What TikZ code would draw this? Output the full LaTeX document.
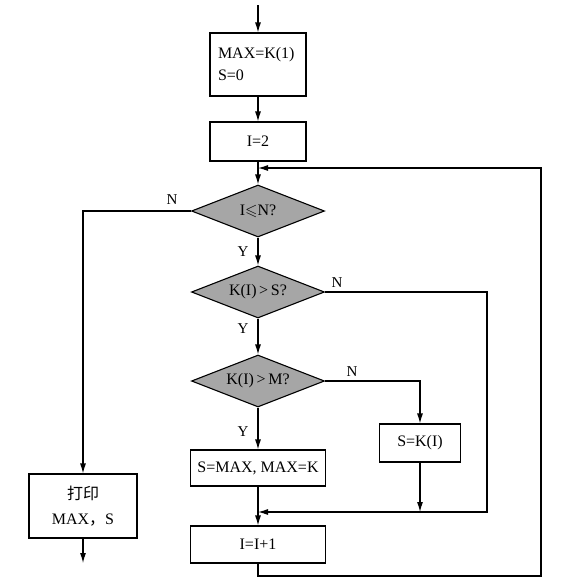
\documentclass[tikz,border=0pt]{standalone}
\usepackage{fontspec}
\usepackage{amssymb}
\setmainfont{Liberation Serif}
\newfontfamily\cjk{Noto Sans CJK SC}
\usetikzlibrary{shapes.geometric,arrows.meta}

\begin{document}
\begin{tikzpicture}[x=1pt, y=-1pt]
    % Define styles
    \tikzset{
        box/.style={
            draw,
            line width=1.1pt,
            inner sep=0pt,
            align=center
        },
        decision/.style={
            draw,
            diamond,
            aspect=2.5,
            line width=1.1pt,
            fill=black!35,
            inner sep=0pt,
            minimum width=133pt,
            minimum height=52pt
        },
        flow/.style={
            line width=1.1pt,
            -{Latex[length=10pt,width=6pt]}
        },
        tag/.style={
            font=\fontsize{15}{17}\selectfont
        }
    }
    \fontsize{16}{22}\selectfont
    \useasboundingbox (0,0) rectangle (563,587);

    % Main column
    \coordinate (start) at (258,5);
    \node[box, minimum width=96pt, minimum height=63pt, text width=80pt, align=left] (init) at (258,64.5) {MAX=K(1)\\S=0};
    \node[box, minimum width=96pt, minimum height=39pt] (first) at (258,141.5) {I=2};
    \node[decision] (test) at (258,211) {I$\leqslant$N?};
    \node[decision] (cmpS) at (258,292) {K(I)\,>\,S?};
    \node[decision] (cmpM) at (258,381) {K(I)\,>\,M?};
    \node[box, minimum width=135pt, minimum height=36pt] (swap) at (258,468) {S=MAX, MAX=K};
    \node[box, minimum width=81pt, minimum height=38pt] (setS) at (420,443) {S=K(I)};
    \node[box, minimum width=135pt, minimum height=37pt] (next) at (258,544.5) {I=I+1};
    \node[box, minimum width=108pt, minimum height=64pt, font=\fontsize{16}{25}\selectfont] (print) at (83,506) {{\cjk 打印}\\MAX{\cjk ，}S};
    \coordinate (stop) at (83,563);

    % Bend points
    \coordinate (loopTop) at (258,168);
    \coordinate (loopBot) at (541,576);
    \coordinate (innerR) at (487,512);
    \coordinate (join) at (258,512);
    \coordinate (joinS) at (420,512);

    % Straight flow
    \draw[flow] (start) -- (init.north);
    \draw[flow] (init.south) -- (first.north);
    \draw[flow] (first.south) -- (test.north);
    \draw[flow] (test.south) -- (cmpS.north);
    \draw[flow] (cmpS.south) -- (cmpM.north);
    \draw[flow] (cmpM.south) -- (swap.north);
    \draw[flow] (swap.south) -- (next.north);
    \draw[flow] (print.south) -- (stop);

    % Branches
    \draw[flow] (test.west) -| (print.north);
    \draw[flow] (cmpM.east) -| (setS.north);
    \draw[flow] (setS.south) -- (joinS);
    \draw[flow] (cmpS.east) -| (innerR) -- (join);
    \draw[flow] (next.south) |- (loopBot) |- (loopTop);

    % Labels
    \node[tag] (nTest) at (172,200) {N};
    \node[tag] (yTest) at (243,252) {Y};
    \node[tag] (nCmpS) at (337,283) {N};
    \node[tag] (yCmpS) at (243,329) {Y};
    \node[tag] (nCmpM) at (352,372) {N};
    \node[tag] (yCmpM) at (243,432) {Y};
\end{tikzpicture}
\end{document}
